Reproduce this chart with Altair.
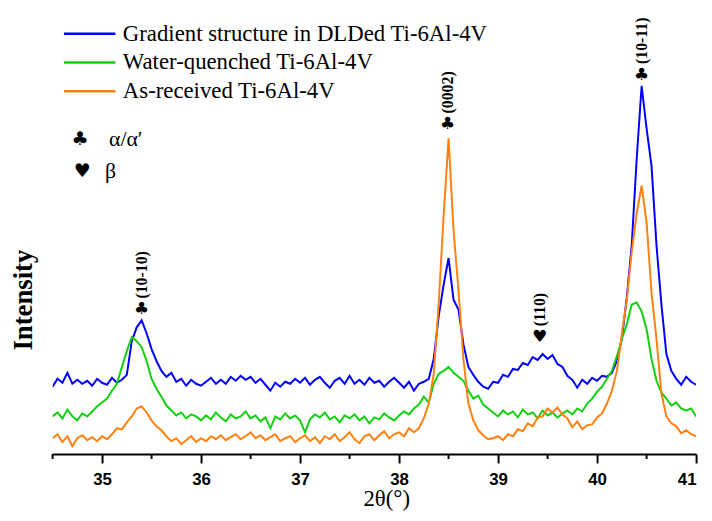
import altair as alt
import pandas as pd

# 2θ sampling grid (degrees)
two_theta = [round(34.5 + 0.05 * i, 2) for i in range(131)]

series_names = [
    "Gradient structure in DLDed Ti-6Al-4V",
    "Water-quenched Ti-6Al-4V",
    "As-received Ti-6Al-4V",
]
series_colors = ["#0000FF", "#10D010", "#FF8010"]

gradient = [68, 76, 72, 82, 71, 75, 71, 74, 69, 76, 72, 70, 77, 72, 75, 80, 114, 128, 135, 122,
            106, 94, 84, 78, 82, 73, 76, 69, 75, 71, 69, 73, 77, 71, 75, 71, 78, 74, 79, 75,
            78, 72, 76, 70, 64, 72, 68, 73, 71, 76, 72, 77, 70, 75, 78, 72, 67, 74, 77, 71,
            79, 71, 75, 70, 77, 72, 74, 68, 73, 77, 72, 67, 73, 64, 71, 73, 76, 96, 139, 171,
            198, 156, 146, 111, 88, 80, 73, 68, 66, 73, 72, 80, 78, 86, 85, 92, 90, 98, 95, 101,
            96, 100, 91, 88, 79, 75, 67, 75, 71, 77, 74, 79, 78, 82, 94, 116, 158, 211, 298, 372,
            329, 291, 211, 151, 101, 84, 76, 70, 78, 73, 70]

water_quenched = [38, 42, 36, 45, 38, 34, 41, 38, 43, 48, 52, 56, 64, 71, 88, 104, 118, 114, 108, 94,
                  76, 66, 58, 49, 44, 39, 42, 36, 40, 38, 34, 39, 35, 42, 37, 33, 40, 36, 38, 43,
                  36, 39, 33, 37, 26, 38, 35, 41, 36, 39, 34, 22, 35, 40, 37, 42, 35, 38, 32, 39,
                  36, 40, 34, 38, 31, 37, 35, 41, 37, 34, 39, 43, 40, 46, 50, 58, 52, 71, 81, 84,
                  88, 82, 78, 74, 64, 56, 59, 50, 46, 42, 38, 44, 40, 43, 37, 45, 40, 42, 36, 44,
                  39, 42, 37, 41, 44, 40, 46, 43, 51, 56, 63, 68, 76, 84, 99, 116, 131, 151, 153, 144,
                  126, 96, 74, 62, 56, 49, 52, 46, 44, 46, 38]

as_received = [16, 20, 12, 18, 8, 16, 19, 14, 17, 13, 18, 15, 20, 26, 25, 32, 38, 46, 48, 42,
               34, 28, 24, 18, 13, 16, 10, 14, 18, 12, 16, 13, 18, 15, 19, 14, 17, 20, 15, 18,
               22, 16, 19, 14, 17, 20, 13, 16, 18, 12, 16, 19, 13, 17, 11, 18, 15, 20, 13, 17,
               22, 15, 11, 18, 20, 14, 19, 23, 16, 20, 22, 18, 26, 22, 26, 36, 51, 81, 151, 241,
               319, 226, 166, 96, 51, 34, 24, 19, 15, 16, 18, 14, 20, 18, 25, 23, 31, 28, 37, 38,
               46, 42, 47, 40, 36, 27, 33, 25, 29, 30, 37, 41, 51, 64, 84, 121, 156, 204, 243, 271,
               234, 163, 116, 61, 38, 31, 28, 21, 24, 20, 18]

major_ticks = [35, 36, 37, 38, 39, 40, 41]
minor_ticks = [34.5, 35.5, 36.5, 37.5, 38.5, 39.5, 40.5]

# peak annotations: phase symbol + (hkl) label
peak_pos = [35.40, 38.49, 39.42, 40.45]
peak_symbol = ["\u2663", "\u2663", "\u2665", "\u2663"]
peak_symbol_y = [146, 333, 118, 383]
peak_label = ["(10-10)", "(0002)", "(110)", "(10-11)"]
peak_label_y = [157, 344, 129, 394]

# phase key
key_symbol = ["\u2663", "\u2665"]
key_text = ["\u03b1/\u03b1\u2032", "\u03b2"]
key_x_symbol = [34.78, 34.80]
key_x_text = [35.07, 35.03]
key_y = [318, 286]

rows = []
for name, vals in zip(series_names, [gradient, water_quenched, as_received]):
    for x, v in zip(two_theta, vals):
        rows.append({"theta": x, "intensity": v, "series": name})
df = pd.DataFrame(rows)

peaks = pd.DataFrame({"x": peak_pos, "sym": peak_symbol, "sy": peak_symbol_y,
                      "lab": peak_label, "ly": peak_label_y})
keys = pd.DataFrame({"sx": key_x_symbol, "tx": key_x_text, "y": key_y,
                     "sym": key_symbol, "txt": key_text})
minor = pd.DataFrame({"m": minor_ticks})

xscale = alt.Scale(domain=[34.5, 41], nice=False, zero=False)
yscale = alt.Scale(domain=[0, 446], nice=False, zero=False)

lines = alt.Chart(df).mark_line(strokeWidth=2, clip=True).encode(
    x=alt.X("theta:Q", scale=xscale,
            axis=alt.Axis(title="2θ(°)", values=major_ticks, format="d",
                          grid=False, domainColor="black", domainWidth=2,
                          tickColor="black", tickWidth=2, tickSize=9,
                          labelFont="Liberation Sans", labelFontWeight="bold",
                          labelFontSize=17, labelColor="black", labelPadding=9,
                          titleFont="Liberation Serif", titleFontSize=23,
                          titleFontWeight="normal", titleColor="black",
                          titleX=337, titleY=52, titleAlign="center",
                          titleBaseline="alphabetic")),
    y=alt.Y("intensity:Q", scale=yscale,
            axis=alt.Axis(title="Intensity", labels=False, ticks=False, domain=False,
                          grid=False, titleFont="Liberation Serif", titleFontSize=27,
                          titleFontWeight="bold", titleColor="black",
                          titleX=-15, titleY=290, titleAngle=270,
                          titleBaseline="bottom", titleAlign="center")),
    color=alt.Color("series:N", sort=series_names,
                    scale=alt.Scale(domain=series_names, range=series_colors),
                    legend=alt.Legend(title=None, orient="none", legendX=23, legendY=7,
                                      padding=0,
                                      symbolType="M-2,0H2", symbolSize=676,
                                      symbolStrokeWidth=2.5, symbolFillColor="transparent",
                                      labelFont="Liberation Serif",
                                      labelFontSize=23, labelColor="black",
                                      labelOffset=19, rowPadding=2, labelLimit=600)),
    order=alt.Order("series:N"),
)

minor_rules = alt.Chart(minor).mark_rule(color="black", strokeWidth=2).encode(
    x=alt.X("m:Q", scale=xscale), y=alt.value(446), y2=alt.value(451))

peak_syms = alt.Chart(peaks).mark_text(fontSize=17, color="black", font="DejaVu Sans").encode(
    x=alt.X("x:Q", scale=xscale), y=alt.Y("sy:Q", scale=yscale), text="sym:N")
peak_labs = alt.Chart(peaks).mark_text(fontSize=16, fontWeight="bold", color="black",
                                       font="Liberation Serif", angle=270, align="left",
                                       baseline="middle").encode(
    x=alt.X("x:Q", scale=xscale), y=alt.Y("ly:Q", scale=yscale), text="lab:N")
key_syms = alt.Chart(keys).mark_text(fontSize=19, color="black", font="DejaVu Sans").encode(
    x=alt.X("sx:Q", scale=xscale), y=alt.Y("y:Q", scale=yscale), text="sym:N")
key_txt = alt.Chart(keys).mark_text(fontSize=22, color="black", font="Liberation Serif",
                                    align="left").encode(
    x=alt.X("tx:Q", scale=xscale), y=alt.Y("y:Q", scale=yscale), text="txt:N")

chart = alt.layer(lines, minor_rules, peak_syms, peak_labs, key_syms, key_txt).properties(
    width=650, height=446,
    autosize=alt.AutoSizeParams(type="none"),
    padding={"left": 45, "top": 2, "right": 8, "bottom": 57},
).configure_view(stroke=None)

chart.save("out.html", embed_options={"renderer": "svg", "actions": False})
